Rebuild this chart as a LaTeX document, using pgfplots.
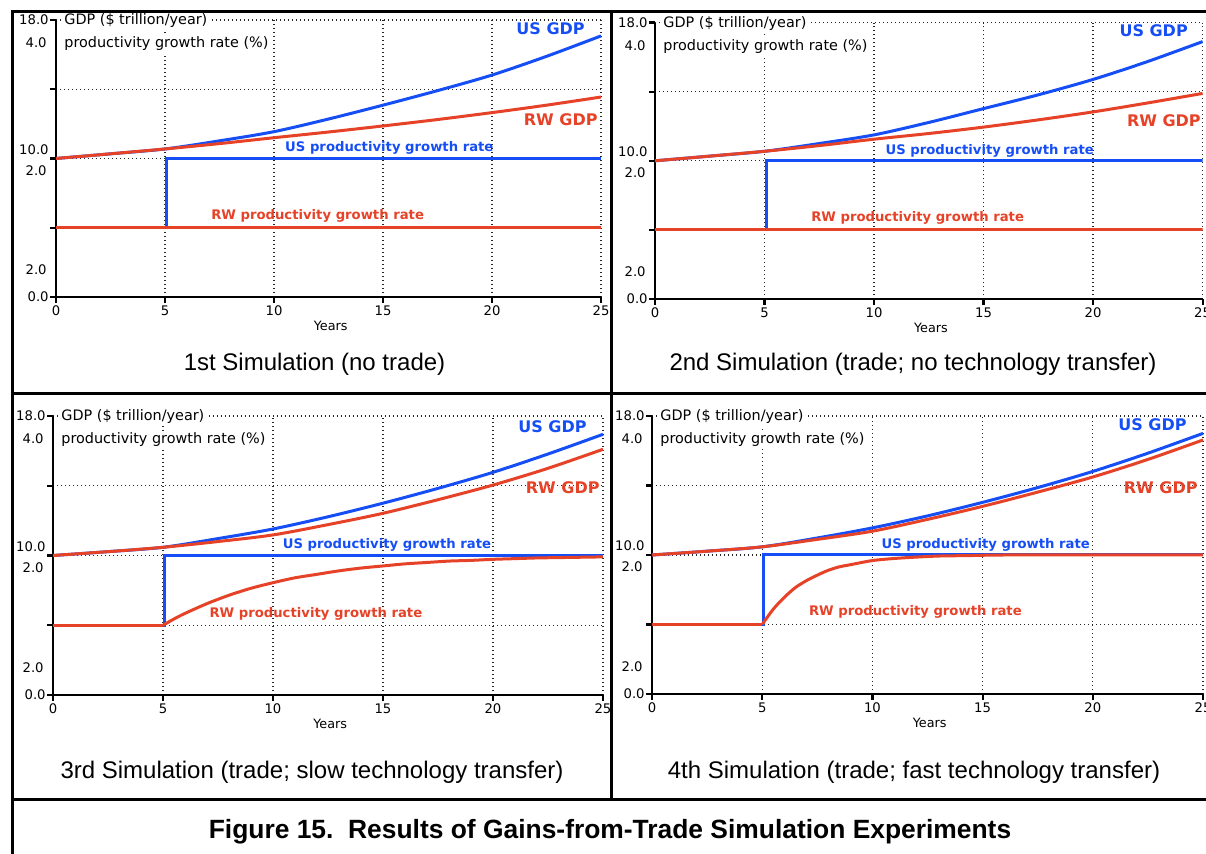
\documentclass[border=0pt]{standalone}
\usepackage{fontspec}
\setmainfont{Liberation Sans}
\newfontfamily\chartfont{DejaVu Sans}
\usepackage{pgfplots}
\usepackage{pgfplotstable}
\pgfplotsset{compat=1.18}

\definecolor{usblue}{RGB}{22,78,246}
\definecolor{rwred}{RGB}{230,66,40}

\newcommand\sm{\chartfont\fontsize{6.6bp}{7.5bp}\selectfont}
\newcommand\tx{\chartfont\fontsize{7.2bp}{8bp}\selectfont}
\newcommand\yr{\chartfont\fontsize{6.4bp}{7bp}\selectfont}
\newcommand\lb{\chartfont\bfseries\fontsize{8bp}{9bp}\selectfont}
\newcommand\lp{\chartfont\bfseries\fontsize{6.6bp}{7.5bp}\selectfont}

\tikzset{lab/.style={inner sep=0pt}}

% GDP, $ trillion/year
\pgfplotstableread{
t    us     rw
0    10.00  10.00
2.5  10.27  10.27
5    10.55  10.55
7.5  11.02  10.86
10   11.55  11.20
12.5 12.28  11.53
15   13.08  11.88
17.5 13.92  12.25
20   14.82  12.65
22.5 15.90  13.08
25   17.08  13.55
}\gdpA
\pgfplotstableread{
t    us     rw
0    10.00  10.00
2.5  10.27  10.27
5    10.55  10.55
7.5  11.00  10.88
10   11.50  11.25
12.5 12.22  11.58
15   13.02  11.95
17.5 13.82  12.37
20   14.71  12.83
22.5 15.75  13.35
25   16.90  13.90
}\gdpB
\pgfplotstableread{
t    us     rw
0    10.00  10.00
2.5  10.22  10.22
5    10.47  10.47
7.5  10.97  10.80
10   11.52  11.18
12.5 12.22  11.77
15   13.00  12.42
17.5 13.85  13.20
20   14.77  14.04
22.5 15.82  15.00
25   16.95  16.09
}\gdpC
\pgfplotstableread{
t    us     rw
0    10.00  10.00
2.5  10.22  10.22
5    10.47  10.47
7.5  10.98  10.90
10   11.56  11.37
12.5 12.25  12.05
15   13.03  12.80
17.5 13.88  13.62
20   14.81  14.49
22.5 15.86  15.50
25   17.00  16.62
}\gdpD

% productivity growth rate, %
\pgfplotstableread{
t    p
0    1
5.08 1
5.08 2
25   2
}\usprod
\pgfplotstableread{
t  p
0  1
25 1
}\rwflat
\pgfplotstableread{
t  p
0  1
5  1
}\rwbefore
\pgfplotstableread{
t  p
5  1
5.5 1.09
6  1.17
7  1.31
8  1.43
9  1.53
10 1.61
11 1.68
12 1.73
13 1.78
14 1.82
15 1.85
16 1.88
17 1.90
18 1.92
19 1.93
20 1.945
21 1.955
22 1.965
23 1.97
24 1.975
25 1.98
}\rwslow
\pgfplotstableread{
t   p
5   1
5.5 1.22
6   1.39
6.5 1.53
7   1.63
7.5 1.71
8   1.78
8.5 1.83
9   1.86
10  1.92
11  1.95
12  1.97
13  1.985
14  1.99
15  1.995
16  2
25  2
}\rwfast

\pgfplotsset{
  gdpaxis/.style={scale only axis, anchor=south west,
    xmin=0, xmax=25, ymin=2, ymax=18,
    axis x line*=bottom, axis y line*=left,
    axis line style={line width=1.2bp, -},
    xtick={0,5,10,15,20,25}, ytick={2,6,10,14,18}, yticklabels={},
    tick align=outside, major tick length=3bp,
    tick style={line width=1.1bp, black},
    xmajorgrids, ymajorgrids,
    grid style={line width=0.6bp, black!85, dash pattern=on 0.6bp off 1.4bp},
    xticklabel style={font=\sm, inner sep=1bp},
    /pgf/number format/assume math mode=true,
    clip=false},
  prodaxis/.style={scale only axis, anchor=south west,
    xmin=0, xmax=25, ymin=0, ymax=4, hide axis},
  us/.style={usblue, line width=1.5bp},
  rw/.style={rwred, line width=1.5bp},
}

\newcommand\ylabs{%
  \node[anchor=east, font=\sm, inner sep=0pt, xshift=-3.5bp] at (axis cs:0,18) {18.0};
  \node[anchor=east, font=\sm, inner sep=0pt, xshift=-4.5bp, yshift=-11.5bp] at (axis cs:0,18) {4.0};
  \node[anchor=east, font=\sm, inner sep=0pt, xshift=-3.5bp, yshift=4.5bp] at (axis cs:0,10) {10.0};
  \node[anchor=east, font=\sm, inner sep=0pt, xshift=-4.5bp, yshift=-6bp] at (axis cs:0,10) {2.0};
  \node[anchor=east, font=\sm, inner sep=0pt, xshift=-4.5bp, yshift=13.5bp] at (axis cs:0,2) {2.0};
  \node[anchor=east, font=\sm, inner sep=0pt, xshift=-3.5bp] at (axis cs:0,2) {0.0};
  \node[anchor=west, font=\tx, fill=white, inner sep=1bp, xshift=3bp, yshift=-0.5bp] at (axis cs:0,18) {GDP (\$ trillion/year)};
  \node[anchor=west, font=\tx, fill=white, inner sep=1bp, xshift=3bp, yshift=-12bp] at (axis cs:0,18) {productivity growth rate (\%)};
  \node[font=\yr, yshift=-14.5bp] at (axis cs:12.6,2) {Years};
}

\begin{document}
\begin{tikzpicture}
\useasboundingbox (0,0) rectangle (603bp,427bp);

% panel 1
\begin{axis}[gdpaxis, at={(28bp,278.5bp)}, width=272.5bp, height=138.5bp]
\addplot[us, smooth] table[x=t, y=us] {\gdpA};
\addplot[rw, smooth] table[x=t, y=rw] {\gdpA};
\ylabs
\node[lab, anchor=east, font=\lb, text=usblue] at (axis cs:24.27,17.48) {US GDP};
\node[lab, anchor=east, font=\lb, text=rwred] at (axis cs:24.86,12.23) {RW GDP};
\node[lab, font=\lp, text=usblue] at (axis cs:15.29,10.61) {US productivity growth rate};
\node[lab, font=\lp, text=rwred] at (axis cs:12.0,6.68) {RW productivity growth rate};
\end{axis}
\begin{axis}[prodaxis, at={(28bp,278.5bp)}, width=272.5bp, height=138.5bp]
\addplot[us] table[x=t, y=p] {\usprod};
\addplot[rw] table[x=t, y=p] {\rwflat};
\end{axis}

% panel 2
\begin{axis}[gdpaxis, at={(327.5bp,277.5bp)}, width=273.8bp, height=138.2bp]
\addplot[us, smooth] table[x=t, y=us] {\gdpB};
\addplot[rw, smooth] table[x=t, y=rw] {\gdpB};
\ylabs
\node[lab, anchor=east, font=\lb, text=usblue] at (axis cs:24.34,17.52) {US GDP};
\node[lab, anchor=east, font=\lb, text=rwred] at (axis cs:24.93,12.31) {RW GDP};
\node[lab, font=\lp, text=usblue] at (axis cs:15.28,10.57) {US productivity growth rate};
\node[lab, font=\lp, text=rwred] at (axis cs:11.99,6.69) {RW productivity growth rate};
\end{axis}
\begin{axis}[prodaxis, at={(327.5bp,277.5bp)}, width=273.8bp, height=138.2bp]
\addplot[us] table[x=t, y=p] {\usprod};
\addplot[rw] table[x=t, y=p] {\rwflat};
\end{axis}

% panel 3
\begin{axis}[gdpaxis, at={(26.5bp,79.5bp)}, width=275bp, height=139.5bp]
\addplot[us, smooth] table[x=t, y=us] {\gdpC};
\addplot[rw, smooth] table[x=t, y=rw] {\gdpC};
\ylabs
\node[lab, anchor=east, font=\lb, text=usblue] at (axis cs:24.27,17.39) {US GDP};
\node[lab, anchor=east, font=\lb, text=rwred] at (axis cs:24.86,13.87) {RW GDP};
\node[lab, font=\lp, text=usblue] at (axis cs:15.18,10.6) {US productivity growth rate};
\node[lab, font=\lp, text=rwred] at (axis cs:11.95,6.65) {RW productivity growth rate};
\end{axis}
\begin{axis}[prodaxis, at={(26.5bp,79.5bp)}, width=275bp, height=139.5bp]
\addplot[us] table[x=t, y=p] {\usprod};
\addplot[rw] table[x=t, y=p] {\rwbefore};
\addplot[rw, smooth] table[x=t, y=p] {\rwslow};
\end{axis}

% panel 4
\begin{axis}[gdpaxis, at={(326bp,80bp)}, width=275.5bp, height=139bp]
\addplot[us, smooth] table[x=t, y=us] {\gdpD};
\addplot[rw, smooth] table[x=t, y=rw] {\gdpD};
\ylabs
\node[lab, anchor=east, font=\lb, text=usblue] at (axis cs:24.27,17.48) {US GDP};
\node[lab, anchor=east, font=\lb, text=rwred] at (axis cs:24.77,13.87) {RW GDP};
\node[lab, font=\lp, text=usblue] at (axis cs:15.14,10.6) {US productivity growth rate};
\node[lab, font=\lp, text=rwred] at (axis cs:11.95,6.7) {RW productivity growth rate};
\end{axis}
\begin{axis}[prodaxis, at={(326bp,80bp)}, width=275.5bp, height=139bp]
\addplot[us] table[x=t, y=p] {\usprod};
\addplot[rw] table[x=t, y=p] {\rwbefore};
\addplot[rw, smooth] table[x=t, y=p] {\rwfast};
\end{axis}

% frame
\draw[line width=1.5bp] (6bp,0bp) -- (6bp,421bp) -- (603bp,421bp);
\draw[line width=1.5bp] (305.5bp,421bp) -- (305.5bp,27bp);
\draw[line width=1.5bp] (6bp,230bp) -- (603bp,230bp);
\draw[line width=1.5bp] (6bp,27bp) -- (603bp,27bp);

% captions
\node[font=\fontsize{12bp}{14bp}\selectfont] at (157.25bp,245bp) {1st Simulation (no trade)};
\node[font=\fontsize{12bp}{14bp}\selectfont] at (456.5bp,245bp) {2nd Simulation (trade; no technology transfer)};
\node[font=\fontsize{12bp}{14bp}\selectfont] at (156bp,41bp) {3rd Simulation (trade; slow technology transfer)};
\node[font=\fontsize{12bp}{14bp}\selectfont] at (457bp,41bp) {4th Simulation (trade; fast technology transfer)};
\node[font=\bfseries\fontsize{13.2bp}{15bp}\selectfont] at (305bp,11bp) {Figure 15.\ \ Results of Gains-from-Trade Simulation Experiments};
\end{tikzpicture}
\end{document}
